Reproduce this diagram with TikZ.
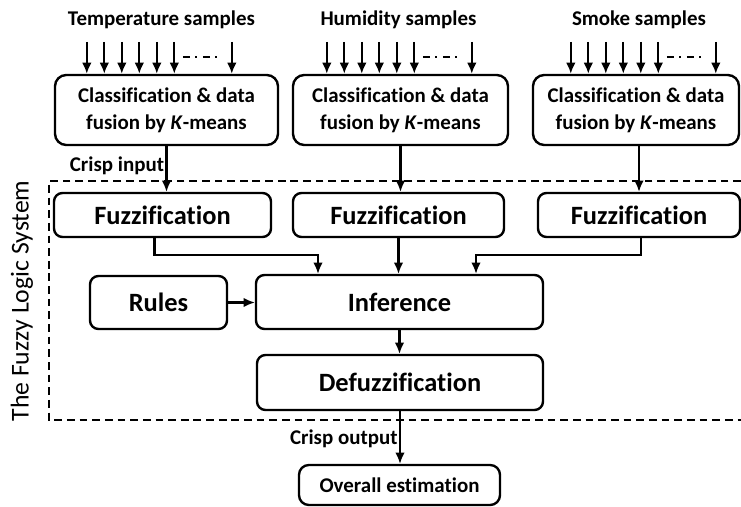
\documentclass[tikz,border=0pt]{standalone}
\usepackage{fontspec}
\setmainfont{Carlito}[Ligatures=NoCommon]
\usepackage{tikz}
\usetikzlibrary{arrows.meta,positioning}

\begin{document}
\begin{tikzpicture}[
  box/.style={rectangle, draw=black, line width=1.7pt, rounded corners=6pt,
              fill=white, align=center, inner sep=2pt,
              font=\fontsize{18.8}{22}\selectfont\bfseries},
  kbox/.style={box, rounded corners=8pt, minimum height=1.75cm,
               font=\fontsize{14.9}{19.2}\selectfont\bfseries},
  lab/.style={font=\fontsize{14.9}{18}\selectfont\bfseries, inner sep=1pt},
  arr/.style={-{Latex[length=2.8mm,width=2.4mm]}, line width=1.5pt},
  dots/.style={line width=1pt, dash pattern=on 5pt off 4pt on 1.2pt off 4pt},
]
\useasboundingbox (0,0) rectangle (18.525,-12.675);

%% Row 0 -- sample labels
\node[lab] (tlab) at (4.0375,-0.5) {Temperature samples};
\node[lab] (hlab) at (9.9625,-0.5) {Humidity samples};
\node[lab] (slab) at (15.975,-0.5) {Smoke samples};

%% Row 1 -- K-means boxes
\node[kbox, minimum width=5.575cm] (tc) at (4.1625,-2.75)
  {Classification \& data\\fusion by \textit{K}-means};
\node[kbox, minimum width=5.375cm] (hc) at (10.0125,-2.75)
  {Classification \& data\\fusion by \textit{K}-means};
\node[kbox, minimum width=5.15cm] (sc) at (15.9,-2.75)
  {Classification \& data\\fusion by \textit{K}-means};

%% sample arrows: six, a dash-dot gap, then the last one
\foreach \b/\o in {tc/0.825, hc/0.875, sc/0.975}{
  \foreach \i in {0,...,5}
    \draw[arr] ([xshift=\o cm+\i*0.4375cm]\b.north west) ++(0,0.8) -- ++(0,-0.8);
  \draw[dots] ([xshift=\o cm+2.4cm, yshift=0.425cm]\b.north west)
    -- ++(0.95,0);
  \draw[arr] ([xshift=\o cm+3.625cm]\b.north west) ++(0,0.8) -- ++(0,-0.8);
}

%% The fuzzy logic system (dashed frame, open to the right)
\draw[line width=1.1pt, dash pattern=on 5.5pt off 3.5pt]
  (18.525,-4.525) -- (1.225,-4.525) -- (1.225,-10.5) -- (18.525,-10.5);
\node[rotate=90, font=\fontsize{18.3}{22}\selectfont] (fls) at (0.55,-7.525)
  {The Fuzzy Logic System};

%% Row 2 -- fuzzification
\node[box, minimum width=5.425cm, minimum height=1.1cm] (fz1) at (4.0625,-5.375) {Fuzzification};
\node[box, minimum width=5.275cm, minimum height=1.1cm] (fz2) at (9.9625,-5.375) {Fuzzification};
\node[box, minimum width=5.05cm, minimum height=1.1cm] (fz3) at (15.975,-5.375) {Fuzzification};

%% Row 3 -- rules and inference
\node[box, minimum width=3.425cm, minimum height=1.325cm] (rules) at (3.9625,-7.5625) {Rules};
\node[box, minimum width=7.175cm, minimum height=1.35cm] (inf) at (9.9875,-7.55) {Inference};

%% Row 4 -- defuzzification
\node[box, minimum width=7.15cm, minimum height=1.375cm] (defz) at (10,-9.5625) {Defuzzification};

%% Row 5 -- output
\node[box, rounded corners=7pt, minimum width=5.025cm, minimum height=1.0cm,
      font=\fontsize{14.9}{18}\selectfont\bfseries] (ovr) at (9.9875,-12.125)
  {Overall estimation};

%% ── Arrows ──
\draw[arr] (tc.south) -- (tc.south |- fz1.north)
  node[lab, pos=0.42, left] {Crisp input};
\draw[arr] (hc.south) -- (hc.south |- fz2.north);
\draw[arr] (fz3.north |- sc.south) -- (fz3.north);

\draw[arr] ([xshift=-0.2cm]fz1.south) -- ++(0,-0.425) -| ([xshift=-2.0375cm]inf.north);
\draw[arr] (fz2.south) -- (fz2.south |- inf.north);
\draw[arr] ([xshift=0.05cm]fz3.south) -- ++(0,-0.425) -| ([xshift=1.9125cm]inf.north);
\draw[arr] (rules.east) -- (rules.east -| inf.west);

\draw[arr] (inf.south) -- (inf.south |- defz.north);
\draw[arr] (defz.south) -- (defz.south |- ovr.north)
  node[lab, pos=0.53, left] {Crisp output};

\end{tikzpicture}
\end{document}
